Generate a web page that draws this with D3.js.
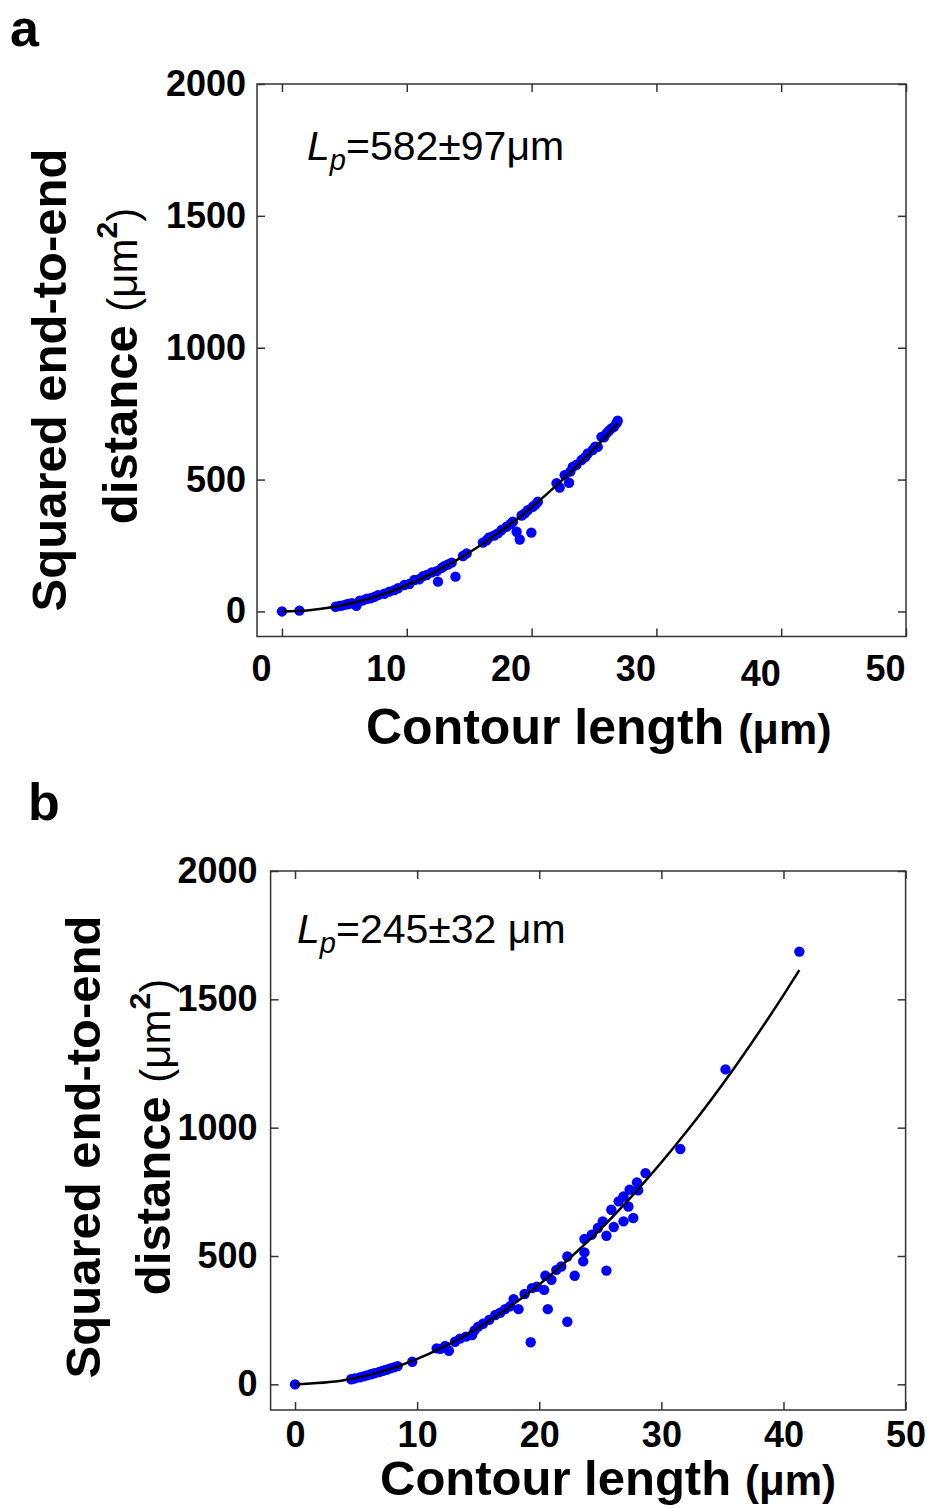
<!DOCTYPE html>
<html lang="en">
<head>
<meta charset="UTF-8">
<title>Squared end-to-end distance vs contour length</title>
<script src="https://d3js.org/d3.v7.min.js"></script>
<style>
    body { margin: 0; background: #fff; }
    svg text { font-family: "Liberation Sans", Arial, sans-serif; fill: #000; }
    .tick text { font-weight: bold; font-size: 36px; }
    .tick line { stroke: #333; stroke-width: 1.5; }
</style>
</head>
<body>
<svg width="929" height="1508"></svg>
<script>
    // ticks shared by both panels
    const xTicks = [0, 10, 20, 30, 40, 50];
    const yTicks = [0, 500, 1000, 1500, 2000];

    // panel a: contour length (um) and squared end-to-end distance (um^2)
    const lenA = [0, 1.4, 4.3, 4.6, 4.8, 5.1, 5.3, 5.6, 5.96, 6.2, 6.25, 6.5, 6.8, 7.1, 7.4, 7.7, 8.2, 8.6, 9.0, 9.3,
        9.8, 10.2, 10.6, 11.0, 11.3, 11.6, 12.0, 12.5, 12.4, 12.8, 13.0, 13.3, 13.6, 13.9, 14.5, 14.8, 16.1, 16.4, 16.6, 17.0,
        17.3, 17.6, 18.0, 18.3, 18.5, 18.8, 19.05, 19.2, 19.45, 19.7, 19.98, 20.1, 20.3, 20.5, 22.0, 22.25, 22.65, 23.0, 23.1, 23.3,
        23.6, 24.0, 24.3, 24.5, 24.9, 25.1, 25.3, 25.6, 25.8, 26.0, 26.2, 26.4, 26.6, 26.8, 26.9];
    const r2A = [0, 3, 18, 21, 22, 26, 28, 31, 21, 38, 41, 42, 48, 50, 55, 62, 67, 75, 81, 88,
        100, 104, 119, 122, 134, 138, 148, 113, 153, 165, 172, 178, 185, 132, 210, 220, 261, 270, 281, 288,
        296, 309, 321, 331, 340, 302, 273, 364, 372, 384, 299, 397, 405, 416, 486, 470, 517, 488, 530, 548,
        556, 574, 585, 599, 612, 625, 624, 662, 660, 675, 685, 694, 700, 713, 723];
    // fitted curve, Lp = 582 um
    const fitLenA = [0, 2, 4, 6, 8, 10, 12, 14, 16, 18, 20, 22, 24, 26, 26.9];
    const fitA = [0, 4.0, 16.0, 35.9, 63.7, 99.4, 143.0, 194.4, 253.7, 320.7, 395.4, 477.9, 568.1, 666.0, 712.6];

    // panel b
    const lenB = [0, 4.6, 4.9, 5.3, 5.6, 5.9, 6.2, 6.5, 6.9, 7.2, 7.5, 7.8, 8.1, 8.4, 9.6, 11.6, 11.9, 12.3, 12.6, 13.1,
        13.5, 14.0, 14.5, 14.7, 15.0, 15.4, 15.9, 16.4, 16.8, 17.2, 17.6, 17.9, 18.3, 18.8, 19.3, 19.4, 19.8, 20.4, 20.5, 20.7,
        21.0, 21.4, 21.8, 22.3, 22.3, 22.9, 23.6, 23.7, 23.7, 24.3, 24.8, 25.2, 25.5, 25.5, 25.9, 26.1, 26.5, 26.9, 26.9, 27.3,
        27.4, 27.7, 28.0, 28.1, 28.7, 31.55, 35.25, 41.3];
    const r2B = [0, 20, 23, 27, 31, 35, 39, 43, 48, 53, 57, 62, 66, 71, 88, 140, 138, 150, 131, 166,
        178, 186, 192, 210, 225, 236, 251, 270, 279, 293, 304, 332, 293, 352, 164, 375, 380, 368, 423, 293,
        407, 446, 459, 498, 244, 423, 479, 514, 566, 583, 609, 635, 579, 443, 680, 613, 713, 732, 635, 693,
        758, 648, 787, 756, 823, 917, 1227, 1686];
    // fitted curve, Lp = 245 um
    const fitLenB = [0, 4, 8, 12, 16, 20, 24, 28, 32, 36, 40, 41.3];
    const fitB = [0, 15.9, 63.3, 141.7, 250.5, 389.3, 557.6, 755.0, 980.8, 1234.8, 1516.4, 1613.6];

    const svg = d3.select("svg");

    function panel(opt) {
        const x = d3.scaleLinear().domain([-2, 50]).range([opt.left, opt.right]);
        const y = d3.scaleLinear().domain([opt.yMin, 2000]).range([opt.bottom, opt.top]);
        const g = svg.append("g");

        // frame
        g.append("rect")
            .attr("x", opt.left).attr("y", opt.top)
            .attr("width", opt.right - opt.left).attr("height", opt.bottom - opt.top)
            .attr("fill", "none").attr("stroke", "#333").attr("stroke-width", 1.5);

        // axes with inward ticks
        const xa = g.append("g").attr("transform", `translate(0,${opt.bottom})`)
            .call(d3.axisBottom(x).tickValues(xTicks).tickSizeInner(-8).tickSizeOuter(0).tickPadding(opt.xPad));
        xa.selectAll("text").attr("dx", opt.xShift).attr("font-size", 35)
            .attr("dy", d => (d === 40 ? opt.forty : 0) + 25);
        g.append("g").attr("transform", `translate(0,${opt.top})`)
            .call(d3.axisTop(x).tickValues(xTicks).tickSizeInner(-8).tickSizeOuter(0).tickFormat(""));
        g.append("g").attr("transform", `translate(${opt.left},0)`)
            .call(d3.axisLeft(y).tickValues(yTicks).tickSizeInner(-8).tickSizeOuter(0)
                .tickPadding(opt.yPad).tickFormat(d3.format("d")));
        g.append("g").attr("transform", `translate(${opt.right},0)`)
            .call(d3.axisRight(y).tickValues(yTicks).tickSizeInner(-8).tickSizeOuter(0).tickFormat(""));
        g.selectAll(".domain").remove();

        // points
        g.selectAll("circle.pt").data(opt.len.map((l, i) => [l, opt.r2[i]])).join("circle")
            .attr("class", "pt")
            .attr("cx", d => x(d[0])).attr("cy", d => y(d[1])).attr("r", 5.2)
            .attr("fill", "#0000ff");

        // fit line
        const line = d3.line().x(d => x(d[0])).y(d => y(d[1])).curve(d3.curveMonotoneX);
        g.append("path")
            .datum(opt.fitLen.map((l, i) => [l, opt.fit[i]]))
            .attr("d", line).attr("fill", "none").attr("stroke", "#000").attr("stroke-width", 2.5);

        // panel letter
        g.append("text").attr("x", opt.letterX).attr("y", opt.letterY)
            .attr("font-size", 52).attr("font-weight", "bold").text(opt.letter);

        // persistence length note
        const t = g.append("text").attr("x", opt.noteX).attr("y", opt.noteY).attr("font-size", 41);
        t.append("tspan").attr("font-style", "italic").text("L");
        t.append("tspan").attr("font-style", "italic").attr("font-size", 29).attr("dy", 10).text("p");
        t.append("tspan").attr("dy", -10).text(opt.note);

        // x title
        const xt = g.append("text").attr("x", opt.xTitleX).attr("y", opt.xTitleY)
            .attr("font-weight", "bold").attr("font-size", opt.xTitleSize);
        xt.append("tspan").text("Contour length");
        xt.append("tspan").attr("dx", 14).attr("font-size", opt.xTitleSize - 7).text("(\u03bcm)");

        // y title, two lines
        g.append("text")
            .attr("transform", `translate(${opt.yT1x},${opt.yT1y}) rotate(-90)`)
            .attr("text-anchor", "middle").attr("font-weight", "bold").attr("font-size", 49)
            .text("Squared end-to-end");
        const y2 = g.append("text")
            .attr("transform", `translate(${opt.yT2x},${opt.yT2y}) rotate(-90)`)
            .attr("text-anchor", "middle").attr("font-weight", "bold").attr("font-size", 49);
        y2.append("tspan").text("distance ");
        y2.append("tspan").attr("font-size", 42).attr("font-weight", "normal").text("(\u03bcm");
        y2.append("tspan").attr("font-size", 30).attr("dy", -20).text("2");
        y2.append("tspan").attr("font-size", 42).attr("font-weight", "normal").attr("dy", 20).text(")");
    }

    panel({
        left: 257, right: 906, top: 84, bottom: 636.5, yMin: -95,
        xPad: 19, xShift: -21, forty: 5, yPad: 11,
        len: lenA, r2: r2A, fitLen: fitLenA, fit: fitA,
        letter: "a", letterX: 10, letterY: 46,
        noteX: 307, noteY: 160, note: "=582\u00b197\u03bcm",
        xTitleX: 366, xTitleY: 744, xTitleSize: 50,
        yT1x: 66, yT1y: 380, yT2x: 137, yT2y: 366
    });

    panel({
        left: 270.6, right: 905.6, top: 871, bottom: 1410, yMin: -100,
        xPad: 12, xShift: 0, forty: 0, yPad: 13,
        len: lenB, r2: r2B, fitLen: fitLenB, fit: fitB,
        letter: "b", letterX: 28, letterY: 820,
        noteX: 297, noteY: 943, note: "=245\u00b132 \u03bcm",
        xTitleX: 380, xTitleY: 1495, xTitleSize: 49,
        yT1x: 100, yT1y: 1147, yT2x: 170, yT2y: 1137
    });
</script>
</body>
</html>
